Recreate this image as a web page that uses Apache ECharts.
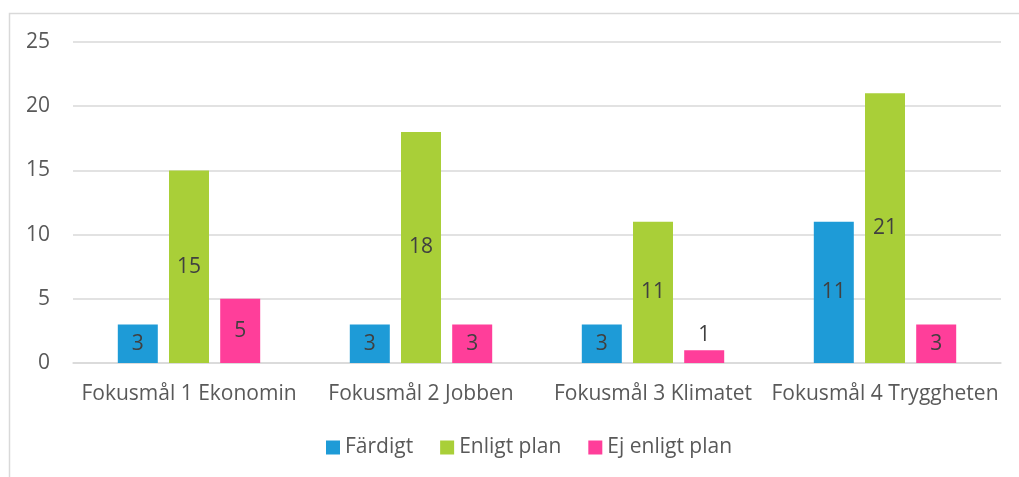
<!DOCTYPE html>
<html style="height: 100%">
<head>
	<meta charset="utf-8">
</head>
<body style="height: 100%; margin: 0; background: #fff">
	<div id="container" style="width: 1019px; height: 477px"></div>
	<script type="text/javascript" src="https://cdn.jsdelivr.net/npm/echarts@6/dist/echarts.min.js"></script>
	<script type="text/javascript">
		var categories = ['Fokusmål 1 Ekonomin', 'Fokusmål 2 Jobben', 'Fokusmål 3 Klimatet', 'Fokusmål 4 Tryggheten'];
		var seriesNames = ['Färdigt', 'Enligt plan', 'Ej enligt plan'];
		var fardigt = [3, 3, 3, 11];
		var enligtPlan = [15, 18, 11, 21];
		var ejEnligtPlan = [5, 3, 1, 3];
		var colors = ['#1E9BD7', '#A9CF38', '#FF3E9A'];

		var font = '"Open Sans", sans-serif';

		function makeData(values) {
			// too small bars get their label above
			return values.map(function (v) {
				return v < 2 ? { value: v, label: { position: 'top', distance: 5 } } : v;
			});
		}

		function makeSeries(name, values, color) {
			return {
				name: name,
				type: 'bar',
				data: makeData(values),
				barWidth: 40,
				barGap: '28%',
				itemStyle: { color: color },
				label: {
					show: true,
					position: 'inside',
					color: '#404040',
					fontSize: 21,
					fontFamily: font
				}
			};
		}

		var myChart = echarts.init(document.getElementById('container'));

		var option = {
			animation: false,
			color: colors,
			graphic: [{
				type: 'rect',
				shape: { x: 9.5, y: 13.5, width: 1200, height: 600 },
				style: { fill: 'none', stroke: '#D9D9D9', lineWidth: 1.5 },
				silent: true
			}],
			grid: {
				left: 73,
				right: 18,
				top: 42,
				bottom: 114
			},
			legend: {
				bottom: 14,
				left: 321,
				itemWidth: 14,
				itemHeight: 14,
				itemGap: 27,
				icon: 'rect',
				textStyle: { color: '#595959', fontSize: 21, fontFamily: font }
			},
			xAxis: {
				type: 'category',
				data: categories,
				axisLine: { lineStyle: { color: '#D9D9D9', width: 1.5 } },
				axisTick: { show: false },
				axisLabel: { color: '#595959', fontSize: 21, fontFamily: font, margin: 21, interval: 0 }
			},
			yAxis: {
				type: 'value',
				min: 0,
				max: 25,
				interval: 5,
				axisLine: { show: false },
				axisTick: { show: false },
				splitLine: { lineStyle: { color: '#D9D9D9', width: 1.5 } },
				axisLabel: { color: '#595959', fontSize: 21, fontFamily: font, margin: 23 }
			},
			series: [
				makeSeries(seriesNames[0], fardigt, colors[0]),
				makeSeries(seriesNames[1], enligtPlan, colors[1]),
				makeSeries(seriesNames[2], ejEnligtPlan, colors[2])
			]
		};

		myChart.setOption(option);
	</script>
</body>
</html>
